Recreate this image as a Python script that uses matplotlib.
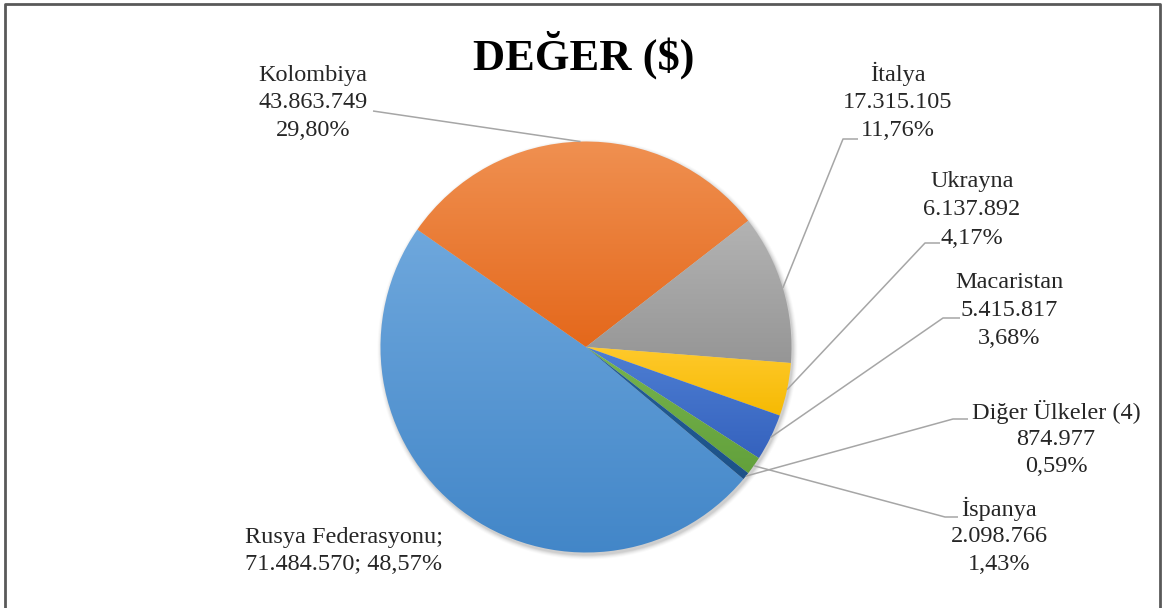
import numpy as np
import matplotlib
matplotlib.use("Agg")
import matplotlib.pyplot as plt
from matplotlib.colors import to_rgb
from matplotlib.patches import Circle

# ---- data ----
countries = ["Rusya Federasyonu", "Kolombiya", "İtalya", "Ukrayna",
             "Macaristan", "İspanya", "Diğer Ülkeler (4)"]
values = [71484570, 43863749, 17315105, 6137892, 5415817, 2098766, 874977]
title = "DEĞER ($)"

# ---- style ----
top_colors = ["#6fa8dd", "#f09152", "#b4b4b4", "#ffca2e", "#4f80d4", "#78b54f", "#245f98"]
bot_colors = ["#4286c8", "#e4671a", "#959595", "#f5b900", "#3461bd", "#62a03b", "#1d5288"]

W, H = 1165, 608
def Y(y):
    return H - y

fig = plt.figure(figsize=(W / 100, H / 100), dpi=100)
ax = fig.add_axes([0, 0, 1, 1])

cx, cy, R = 586, 347, 205.5

# soft shadow
for i, a in enumerate([0.06, 0.05, 0.04, 0.03, 0.02]):
    ax.add_patch(Circle((cx + 1.5, Y(cy) - 2.5), R + 0.5 + i, color="black",
                        alpha=a, lw=0, zorder=0))

wedges, _ = ax.pie(values, startangle=320, counterclock=False,
                   center=(cx, Y(cy)), radius=R,
                   colors=["none"] * len(values),
                   wedgeprops=dict(linewidth=0))

for w, ct, cb in zip(wedges, top_colors, bot_colors):
    w.set_zorder(1)
    ext = w.get_path().get_extents()
    pad = 4
    x0, y0, x1, y1 = ext.x0 - pad, ext.y0 - pad, ext.x1 + pad, ext.y1 + pad
    n = 256
    t = np.linspace(0, 1, n)[:, None]
    grad = (1 - t) * np.array(to_rgb(cb)) + t * np.array(to_rgb(ct))
    img = np.repeat(grad[:, None, :], 2, axis=1)
    im = ax.imshow(img, extent=[x0, x1, y0, y1], origin="lower",
                   aspect="auto", zorder=2, interpolation="bilinear")
    im.set_clip_path(w)

# ---- labels ----
def fmt_val(v):
    return f"{v:,}".replace(",", ".")

total = sum(values)
pcts = [f"{100 * v / total:.2f}".replace(".", ",") + "%" for v in values]

txt_kw = dict(family="Liberation Serif", fontsize=17.5, color="#262626",
              ha="center", va="center", zorder=5)

# label layout: (center x, first-line y, line step)
label_pos = {
    "Kolombiya": (313, 75, 28),
    "İtalya": (898, 74, 28.5),
    "Ukrayna": (972, 181, 28.5),
    "Macaristan": (1009, 282, 28.5),
    "Diğer Ülkeler (4)": (1056, 412, 27.5),
    "İspanya": (999, 509, 28),
}
for name, v, p in zip(countries, values, pcts):
    if name in label_pos:
        x, y, dy = label_pos[name]
        for k, line in enumerate([name, fmt_val(v), p]):
            ax.text(x, Y(y + k * dy), line, **txt_kw)
    else:
        ax.text(344, Y(537), name + ";", **txt_kw)
        ax.text(344, Y(564), fmt_val(v) + "; " + p, **txt_kw)

# leader lines (elbow layout)
leader_pts = {
    "Kolombiya": [(373, 111)],
    "İtalya": [(843, 139), (858, 139)],
    "Ukrayna": [(925, 243), (940, 243)],
    "Macaristan": [(943, 318), (960, 318)],
    "Diğer Ülkeler (4)": [(953, 419), (968, 419)],
    "İspanya": [(945, 517), (958, 517)],
}
for name, w in zip(countries, wedges):
    if name not in leader_pts:
        continue
    th = np.deg2rad((w.theta1 + w.theta2) / 2)
    ax0 = cx + R * np.cos(th)
    ay0 = Y(cy) + R * np.sin(th)
    xs = [ax0] + [p[0] for p in leader_pts[name]]
    ys = [ay0] + [Y(p[1]) for p in leader_pts[name]]
    ax.plot(xs, ys, color="#a6a6a6", lw=1.1, zorder=4, solid_capstyle="butt")

# title
ax.text(584, Y(55), title, family="Liberation Serif", fontweight="bold",
        fontsize=32, color="black", ha="center", va="center", zorder=5)

# frame (top, left, right)
ax.plot([5, 5, 1160, 1160], [Y(H + 10), Y(4), Y(4), Y(H + 10)],
        color="#595959", lw=2, zorder=6, clip_on=False)

ax.set_xlim(0, W)
ax.set_ylim(0, H)
ax.set_aspect("auto")
ax.axis("off")

fig.savefig("out.png", dpi=100, facecolor="white")
